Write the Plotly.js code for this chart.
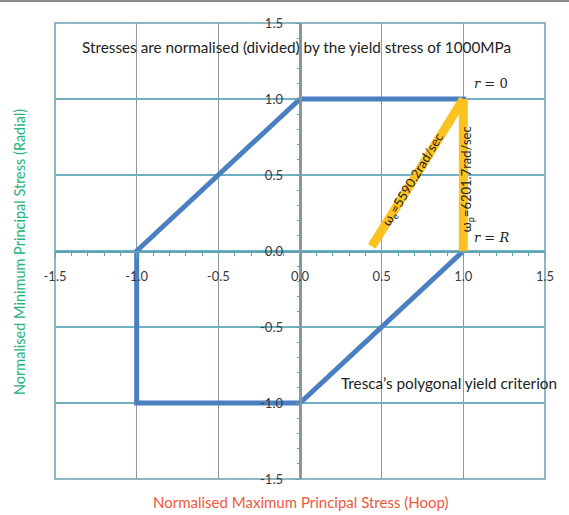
<!DOCTYPE html>
<html>
<head>
<meta charset="utf-8">
<script src="https://cdn.plot.ly/plotly-3.0.1.min.js"></script>
<style>html,body{margin:0;padding:0;background:#fff;}#chart{width:569px;height:515px;}</style>
</head>
<body>
<div id="chart"></div>
<script>
// Tresca hexagon (normalised stresses)
const trescaX = [0, 1, 1, 0, -1, -1, 0];
const trescaY = [1, 1, 0, -1, -1, 0, 1];
// Elastic path (omega_e) and plastic path (omega_p)
const elasticX = [0.44, 1.0];
const elasticY = [0.03, 1.0];
const plasticX = [1.0, 1.0];
const plasticY = [1.0, 0.0];
const tickVals = [-1.5, -1.0, -0.5, 0.0, 0.5, 1.0, 1.5];
const tickText = ['-1.5', '-1.0', '-0.5', '0.0', '0.5', '1.0', '1.5'];

const FONT = 'Lato, "Open Sans", sans-serif';
const traces = [
  {x: trescaX, y: trescaY, mode: 'lines', line: {color: '#4a7fc1', width: 5}, hoverinfo: 'skip'},
  {x: elasticX, y: elasticY, mode: 'lines', line: {color: '#fcc21f', width: 9}, hoverinfo: 'skip'},
  {x: plasticX, y: plasticY, mode: 'lines', line: {color: '#fcc21f', width: 9}, hoverinfo: 'skip'},
  {x: [], y: [], xaxis: 'x2', yaxis: 'y2', mode: 'lines', hoverinfo: 'skip'}
];

const labelAxis = {
  range: [-1.5, 1.5], tickvals: tickVals, ticktext: tickText,
  anchor: 'free', showgrid: false, zeroline: false, showline: false, ticks: '',
  tickfont: {family: FONT, size: 13, color: '#3a3a3a'}, fixedrange: true
};

const layout = {
  width: 569, height: 515,
  margin: {l: 55, r: 24, t: 23, b: 36},
  showlegend: false,
  paper_bgcolor: '#ffffff', plot_bgcolor: '#ffffff',
  font: {family: FONT, size: 11, color: '#333'},
  xaxis: {
    range: [-1.5, 1.5], tickvals: tickVals, showticklabels: false,
    anchor: 'free', position: 0.5,
    showgrid: true, gridcolor: '#8e9aa3', gridwidth: 1.3,
    zeroline: false, showline: true, linecolor: '#5fa3b5', linewidth: 1.5,
    ticks: 'outside', ticklen: 5, tickcolor: '#5fa3b5',
    minor: {dtick: 0.1, ticks: 'outside', ticklen: 3, tickcolor: '#5fa3b5', showgrid: false},
    fixedrange: true
  },
  yaxis: {
    range: [-1.5, 1.5], tickvals: tickVals, showticklabels: false,
    anchor: 'free', position: 0.5,
    showgrid: true, gridcolor: '#6fb0c2', gridwidth: 1.3,
    zeroline: false, showline: true, linecolor: '#8a969e', linewidth: 1.5,
    ticks: 'outside', ticklen: 5, tickcolor: '#5fa3b5',
    minor: {dtick: 0.1, ticks: 'outside', ticklen: 3, tickcolor: '#5fa3b5', showgrid: false},
    fixedrange: true
  },
  xaxis2: Object.assign({}, labelAxis, {overlaying: 'x', position: 0.5 - 16/456, side: 'bottom'}),
  yaxis2: Object.assign({}, labelAxis, {overlaying: 'y', position: 0.5 - 17/490, side: 'left'}),
  shapes: [
    {type: 'rect', xref: 'paper', yref: 'paper', x0: 0, x1: 1, y0: 0, y1: 1,
     line: {color: '#6a9fb0', width: 1.5}, layer: 'below'},
    {type: 'line', xref: 'paper', yref: 'paper', x0: -55/490, x1: 514/490, y0: 1.048, y1: 1.048,
     line: {color: '#8a8a8a', width: 2}}
  ],
  annotations: [
    {text: 'Stresses are normalised (divided) by the yield stress of 1000MPa', x: -0.02, y: 1.34,
     xref: 'x', yref: 'y', showarrow: false, font: {family: FONT, size: 15.3, color: '#222'}},
    {text: '<i>r</i> = 0', x: 1.17, y: 1.1, xref: 'x', yref: 'y', showarrow: false,
     font: {family: '"DejaVu Serif", "Liberation Serif", serif', size: 13, color: '#222'}},
    {text: '<i>r</i> = <i>R</i>', x: 1.17, y: 0.09, xref: 'x', yref: 'y', showarrow: false,
     font: {family: '"DejaVu Serif", "Liberation Serif", serif', size: 13, color: '#222'}},
    {text: 'Tresca\u2019s polygonal yield criterion', x: 0.915, y: -0.87, xref: 'x', yref: 'y', showarrow: false,
     font: {family: FONT, size: 15.3, color: '#222'}},
    {text: '\u03c9<sub>e</sub>=5590.2rad/sec', x: 0.69, y: 0.47, xref: 'x', yref: 'y', showarrow: false,
     textangle: -59, font: {family: FONT, size: 13, color: '#222'}},
    {text: '\u03c9<sub>p</sub>=6201.7rad/sec', x: 1.02, y: 0.47, xref: 'x', yref: 'y', showarrow: false,
     textangle: -90, font: {family: FONT, size: 13, color: '#222'}},
    {text: 'Normalised Maximum Principal Stress (Hoop)', x: 0.5, y: -0.05, xref: 'paper', yref: 'paper',
     xanchor: 'center', yanchor: 'middle', showarrow: false, font: {family: FONT, size: 15, color: '#f0583c'}},
    {text: 'Normalised Minimum Principal Stress (Radial)', x: -0.072, y: 0.497, xref: 'paper', yref: 'paper',
     xanchor: 'center', yanchor: 'middle', textangle: -90, showarrow: false,
     font: {family: FONT, size: 14.5, color: '#22b57a'}}
  ]
};

Plotly.newPlot('chart', traces, layout, {displayModeBar: false, staticPlot: true});
</script>
</body>
</html>
